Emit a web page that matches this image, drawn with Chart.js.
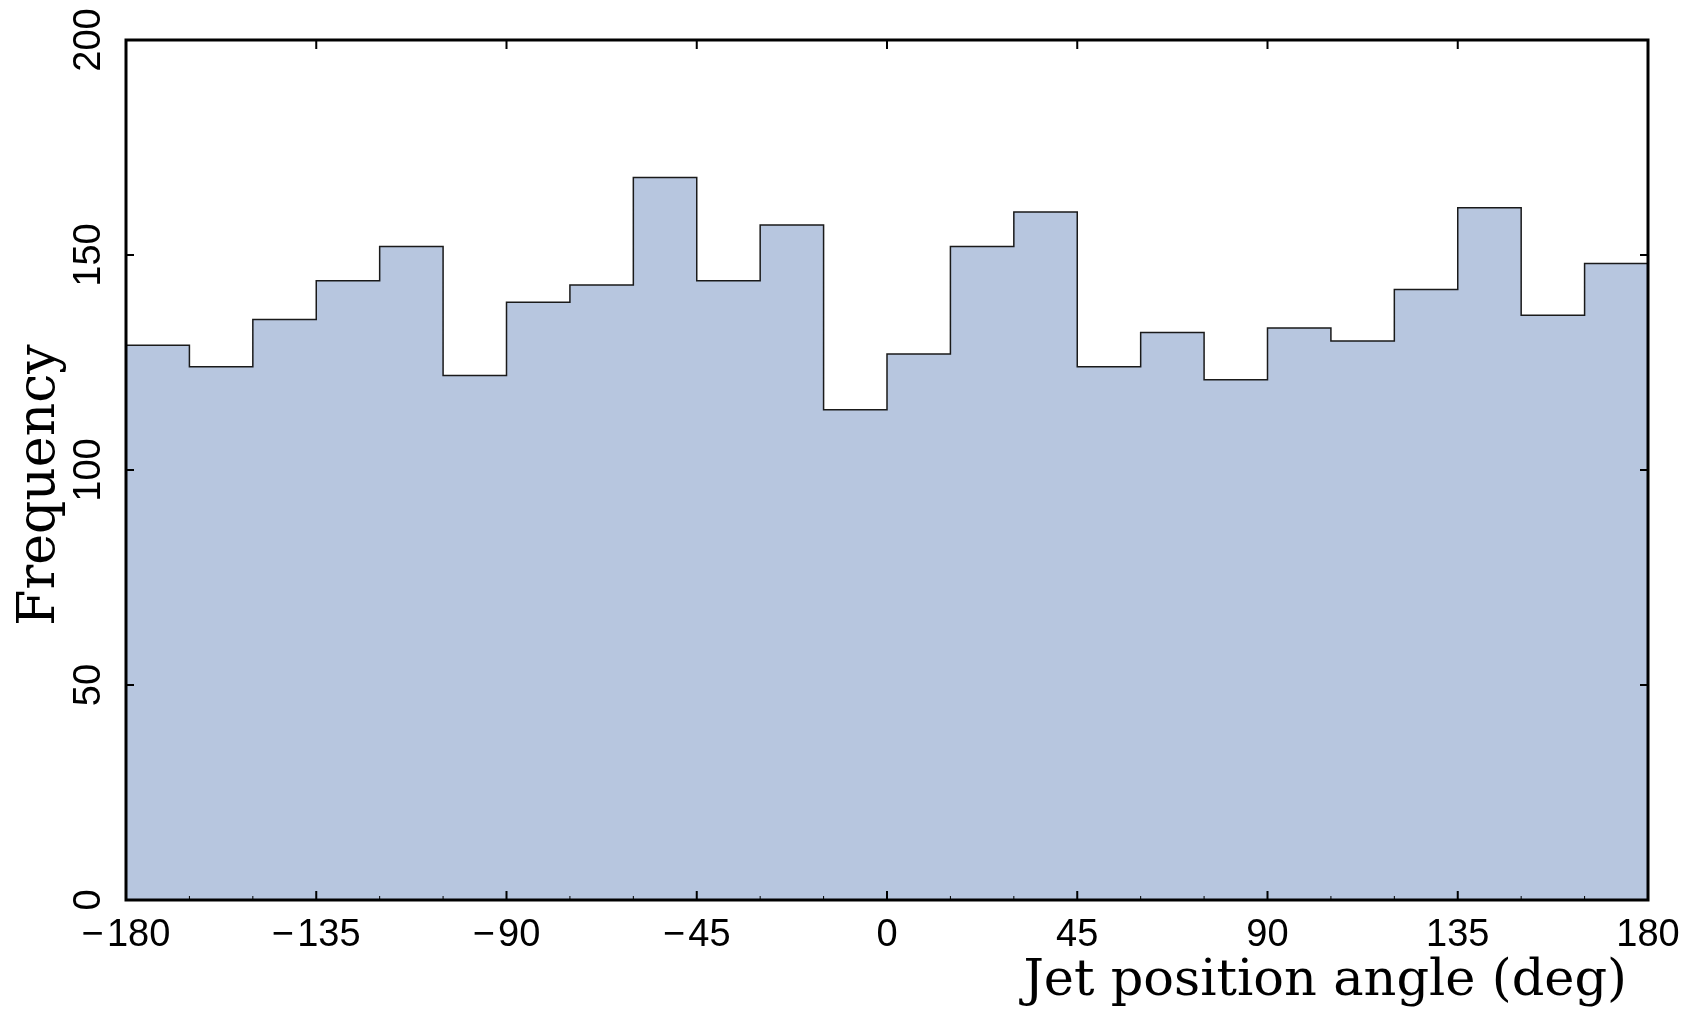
<!DOCTYPE html>
<html>
<head>
<meta charset="utf-8">
<script src="https://cdn.jsdelivr.net/npm/chart.js@4.4.1/dist/chart.umd.min.js"></script>
<style>
  html, body { margin: 0; padding: 0; background: #fff; }
  #wrap { width: 1695px; height: 1016px; }
</style>
</head>
<body>
<div id="wrap"><canvas id="chart-area" width="1695" height="1016"></canvas></div>
<script>
// histogram bins: left edges (deg) and counts
var binEdges = [-180, -165, -150, -135, -120, -105, -90, -75, -60, -45, -30, -15,
                0, 15, 30, 45, 60, 75, 90, 105, 120, 135, 150, 165, 180];
var counts = [129, 124, 135, 144, 152, 122, 139, 143, 168, 144, 157, 114,
              127, 152, 160, 124, 132, 121, 133, 130, 142, 161, 136, 148];
var xTicks = [-180, -135, -90, -45, 0, 45, 90, 135, 180];
var xMinorTicks = [-165, -150, -120, -105, -75, -60, -30, -15, 15, 30, 60, 75, 105, 120, 150, 165];
var yTicks = [0, 50, 100, 150, 200];

var xTitle = 'Jet position angle (deg)';
var yTitle = 'Frequency';

var tickFont = '38px "Liberation Sans", Arial, sans-serif';

// step points: one at each bin's left edge, plus the closing edge
var points = [];
for (var i = 0; i < counts.length; i++) {
    points.push({x: binEdges[i], y: counts[i]});
}
points.push({x: binEdges[binEdges.length - 1], y: counts[counts.length - 1]});

// frame, inward ticks, rotated y labels and axis titles
var framePlugin = {
    id: 'frame',
    afterDraw: function (chart) {
        var ctx = chart.ctx;
        var a = chart.chartArea;
        var xs = chart.scales.x;
        var ys = chart.scales.y;
        ctx.save();
        ctx.strokeStyle = '#000';

        ctx.lineWidth = 2;
        xTicks.forEach(function (v) {
            var px = xs.getPixelForValue(v);
            ctx.beginPath();
            ctx.moveTo(px, a.bottom); ctx.lineTo(px, a.bottom - 9);
            ctx.moveTo(px, a.top); ctx.lineTo(px, a.top + 9);
            ctx.stroke();
        });
        yTicks.forEach(function (v) {
            var py = ys.getPixelForValue(v);
            ctx.beginPath();
            ctx.moveTo(a.left, py); ctx.lineTo(a.left + 8, py);
            ctx.moveTo(a.right, py); ctx.lineTo(a.right - 8, py);
            ctx.stroke();
        });
        ctx.lineWidth = 1;
        xMinorTicks.forEach(function (v) {
            var px = xs.getPixelForValue(v);
            ctx.beginPath();
            ctx.moveTo(px, a.bottom); ctx.lineTo(px, a.bottom - 4);
            ctx.stroke();
        });

        ctx.lineWidth = 3;
        ctx.strokeRect(a.left, a.top, a.right - a.left, a.bottom - a.top);

        // y tick labels, read bottom to top
        ctx.fillStyle = '#000';
        ctx.font = tickFont;
        ctx.textAlign = 'center';
        ctx.textBaseline = 'alphabetic';
        yTicks.forEach(function (v) {
            var py = ys.getPixelForValue(v);
            ctx.save();
            ctx.translate(a.left - 26, py);
            ctx.rotate(-Math.PI / 2);
            ctx.fillText(String(v), 0, 0);
            ctx.restore();
        });

        ctx.font = '52px "DejaVu Serif", serif';
        ctx.save();
        ctx.translate(54, 485);
        ctx.rotate(-Math.PI / 2);
        ctx.textAlign = 'center';
        ctx.fillText(yTitle, 0, 0);
        ctx.restore();

        ctx.font = '51px "DejaVu Serif", serif';
        ctx.textAlign = 'right';
        ctx.fillText(xTitle, a.right - 21, 995);
        ctx.restore();
    }
};

var config = {
    type: 'line',
    data: {
        datasets: [{
            label: 'Frequency',
            data: points,
            stepped: true,
            fill: 'origin',
            backgroundColor: 'rgb(183,198,223)',
            borderColor: '#1a1a1a',
            borderWidth: 1.5,
            pointRadius: 0,
            tension: 0
        }]
    },
    options: {
        responsive: false,
        devicePixelRatio: 1,
        animation: false,
        layout: {padding: {left: 0, top: 40, right: 47, bottom: 0}},
        plugins: {
            legend: {display: false},
            tooltip: {enabled: false}
        },
        scales: {
            x: {
                type: 'linear',
                min: -180,
                max: 180,
                afterBuildTicks: function (s) {
                    s.ticks = xTicks.map(function (v) { return {value: v}; });
                },
                afterFit: function (s) { s.height = 116; },
                grid: {display: false, drawTicks: false},
                border: {display: false},
                ticks: {
                    color: '#000',
                    font: {family: '"Liberation Sans", Arial, sans-serif', size: 38},
                    padding: 13,
                    maxRotation: 0,
                    autoSkip: false,
                    callback: function (v) { return String(v).replace('-', '\u2212\u200a'); }
                }
            },
            y: {
                min: 0,
                max: 200,
                afterFit: function (s) { s.width = 126; },
                grid: {display: false, drawTicks: false},
                border: {display: false},
                ticks: {display: false, stepSize: 50}
            }
        }
    },
    plugins: [framePlugin]
};

var ctx = document.getElementById('chart-area').getContext('2d');
window.myHist = new Chart(ctx, config);
</script>
</body>
</html>
